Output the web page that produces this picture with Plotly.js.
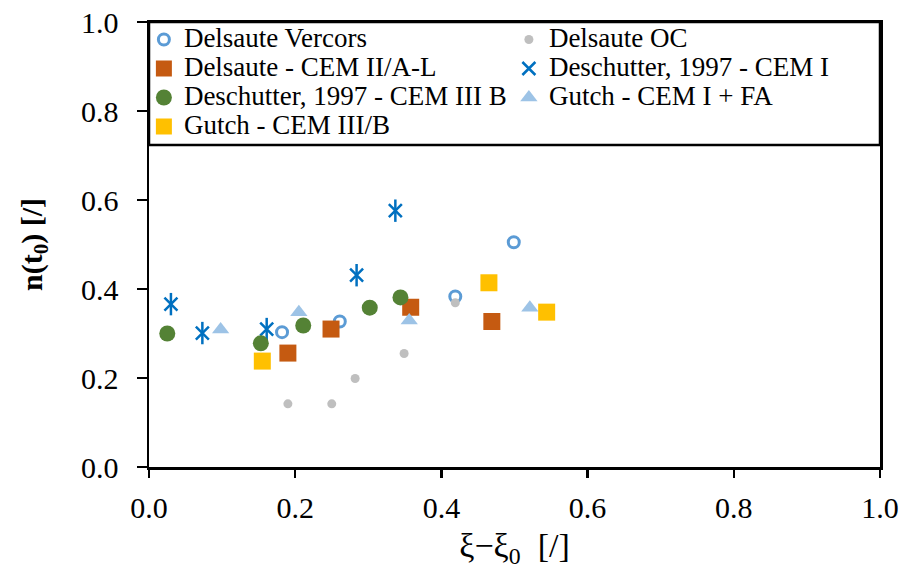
<!DOCTYPE html>
<html>
<head>
<meta charset="utf-8">
<script src="https://cdn.plot.ly/plotly-3.0.1.min.js"></script>
<style>html,body{margin:0;padding:0;background:#fff;}#chart{width:899px;height:569px;}</style>
</head>
<body>
<div id="chart"></div>
<script>
// Data
const vercorsX = [0.182, 0.261, 0.419, 0.499];
const vercorsY = [0.303, 0.327, 0.383, 0.505];
const ocX = [0.190, 0.250, 0.282, 0.349, 0.419];
const ocY = [0.142, 0.142, 0.199, 0.255, 0.369];
const cem2X = [0.190, 0.249, 0.358, 0.469];
const cem2Y = [0.256, 0.310, 0.359, 0.327];
const desc1X = [0.030, 0.073, 0.161, 0.284, 0.337];
const desc1Y = [0.366, 0.301, 0.310, 0.431, 0.576];
const desc3X = [0.025, 0.153, 0.211, 0.302, 0.344];
const desc3Y = [0.300, 0.278, 0.318, 0.358, 0.381];
const gutchFAX = [0.098, 0.205, 0.356, 0.521];
const gutchFAY = [0.309, 0.348, 0.329, 0.358];
const gutch3X = [0.155, 0.465, 0.544];
const gutch3Y = [0.238, 0.414, 0.348];
const xTicks = [0, 0.2, 0.4, 0.6, 0.8, 1.0];
const yTicks = [0, 0.2, 0.4, 0.6, 0.8, 1.0];
const seriesNames = ['Delsaute Vercors', 'Delsaute OC', 'Delsaute - CEM II/A-L',
  'Deschutter, 1997 - CEM I', 'Deschutter, 1997 - CEM III B', 'Gutch - CEM I + FA', 'Gutch - CEM III/B'];

const serif = 'Liberation Serif';
const lg = n => '<span style="font-size:27px">' + n + '</span>';

const traces = [
  {name: lg(seriesNames[0]), x: vercorsX, y: vercorsY, mode: 'markers', type: 'scatter',
   marker: {symbol: 'circle-open', size: 11, color: '#5B9BD5', line: {width: 3, color: '#5B9BD5'}}},
  {name: lg(seriesNames[1]), x: ocX, y: ocY, mode: 'markers', type: 'scatter',
   marker: {symbol: 'circle', size: 9, color: '#BFBFBF'}},
  {name: lg(seriesNames[2]), x: cem2X, y: cem2Y, mode: 'markers', type: 'scatter',
   marker: {symbol: 'square', size: 17, color: '#C55A11'}},
  {name: lg(seriesNames[3]), x: desc1X, y: desc1Y, mode: 'markers', type: 'scatter',
   marker: {symbol: 'x-thin-open', size: 13, color: '#0070C0', line: {width: 2.5, color: '#0070C0'}}},
  {name: seriesNames[3] + ' (stem)', x: desc1X, y: desc1Y, mode: 'markers', type: 'scatter', showlegend: false,
   marker: {symbol: 'line-ns-open', size: 16, color: '#0070C0', line: {width: 2.5, color: '#0070C0'}}},
  {name: lg(seriesNames[4]), x: desc3X, y: desc3Y, mode: 'markers', type: 'scatter',
   marker: {symbol: 'circle', size: 16, color: '#548235'}},
  {name: lg(seriesNames[5]), x: gutchFAX, y: gutchFAY, mode: 'markers', type: 'scatter',
   marker: {symbol: 'triangle-up', size: 15, color: '#9DC3E6'}},
  {name: lg(seriesNames[6]), x: gutch3X, y: gutch3Y, mode: 'markers', type: 'scatter',
   marker: {symbol: 'square', size: 17, color: '#FFC000'}}
];

const layout = {
  width: 899, height: 569,
  margin: {l: 149, r: 19, t: 22, b: 102},
  paper_bgcolor: '#fff', plot_bgcolor: '#fff',
  font: {family: serif, size: 22, color: '#000'},
  showlegend: true,
  legend: {
    orientation: 'h', x: -0.007, y: 1.0045, xanchor: 'left', yanchor: 'top',
    bgcolor: 'rgba(0,0,0,0)', borderwidth: 0,
    entrywidth: 320, entrywidthmode: 'pixels',
    font: {family: serif, size: 20, color: '#000'},
    itemclick: false, tracegroupgap: 0
  },
  shapes: [
    {type: 'rect', xref: 'paper', yref: 'paper', x0: 0, x1: 1, y0: 0.7236, y1: 1,
     line: {color: '#000', width: 2.5}, fillcolor: 'rgba(0,0,0,0)', layer: 'above'}
  ],
  xaxis: {
    range: [0, 1], tickvals: xTicks, ticktext: xTicks.map(v => v.toFixed(1)),
    showgrid: false, zeroline: false, showline: true, linecolor: '#000', linewidth: 2.5,
    mirror: true, ticks: 'outside', ticklen: 8, tickwidth: 2.5, tickcolor: '#000',
    ticklabelstandoff: 4,
    tickfont: {family: serif, size: 30, color: '#000'},
    title: {text: 'ξ−ξ<sub>0</sub>  [/]', font: {family: serif, size: 34, color: '#000'}, standoff: 18}
  },
  yaxis: {
    range: [0, 1], tickvals: yTicks, ticktext: yTicks.map(v => v.toFixed(1)),
    showgrid: false, zeroline: false, showline: true, linecolor: '#000', linewidth: 2.5,
    mirror: true, ticks: 'outside', ticklen: 10, tickwidth: 2.5, tickcolor: '#000',
    ticklabelstandoff: 12,
    tickfont: {family: serif, size: 30, color: '#000'},
    title: {text: '<b>n(t<sub>0</sub>) [/]</b>', font: {family: serif, size: 30, color: '#000'}, standoff: 30}
  }
};

Plotly.newPlot('chart', traces, layout, {displayModeBar: false, staticPlot: true});
</script>
</body>
</html>
